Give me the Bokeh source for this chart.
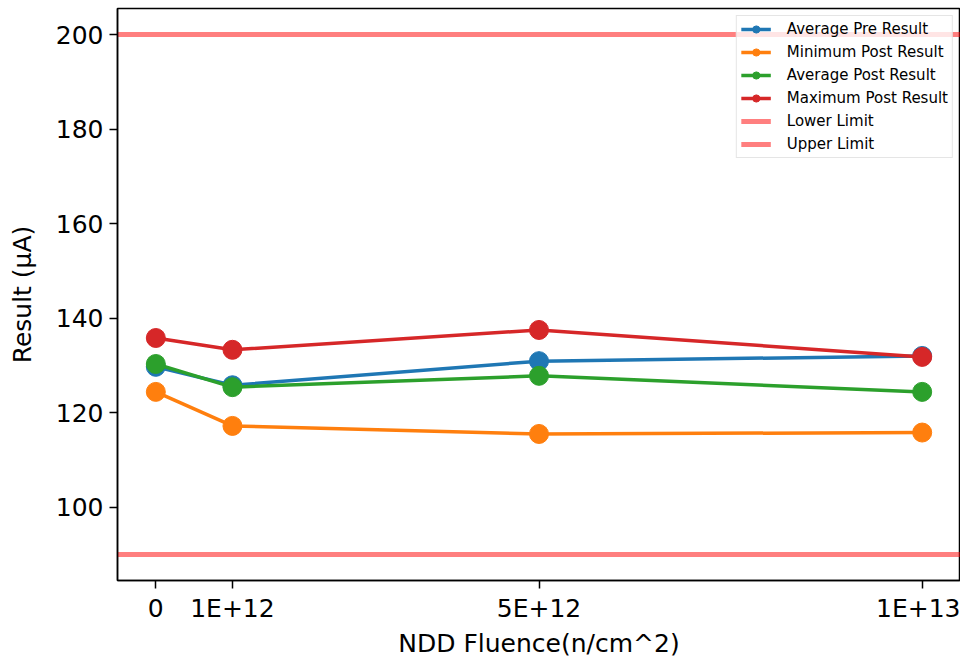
from bokeh.plotting import figure
from bokeh.models import FixedTicker, Range1d, Legend, LegendItem
from bokeh.embed import file_html
from bokeh.resources import INLINE

fluence = [0, 1e12, 5e12, 1e13]
tick_labels = ["0", "1E+12", "5E+12", "1E+13"]
avg_pre = [129.7, 125.8, 130.9, 132.0]
min_post = [124.4, 117.2, 115.5, 115.8]
avg_post = [130.3, 125.4, 127.8, 124.4]
max_post = [135.8, 133.3, 137.5, 131.8]
lower_limit = 90
upper_limit = 200

FONT = "DejaVu Sans"

p = figure(width=960, height=660, output_backend="svg", toolbar_location=None,
           x_range=Range1d(-0.05e13, 1.05e13), y_range=Range1d(84.5, 205.5),
           min_border_left=117, min_border_right=0, min_border_top=8, min_border_bottom=78)
p.xgrid.visible = False
p.ygrid.visible = False
p.outline_line_color = "black"
p.outline_line_width = 1.5

series = [("Average Pre Result", avg_pre, "#1f77b4"),
          ("Minimum Post Result", min_post, "#ff7f0e"),
          ("Average Post Result", avg_post, "#2ca02c"),
          ("Maximum Post Result", max_post, "#d62728")]
items = []
for name, vals, col in series:
    l = p.line(fluence, vals, line_color=col, line_width=3.5)
    c = p.scatter(fluence, vals, size=19, fill_color=col, line_color=col)
    items.append(LegendItem(label=name, renderers=[l, c]))

lo = p.line([-1e14, 1e14], [lower_limit, lower_limit], line_color="red", line_alpha=0.5, line_width=5)
up = p.line([-1e14, 1e14], [upper_limit, upper_limit], line_color="red", line_alpha=0.5, line_width=5)
items.append(LegendItem(label="Lower Limit", renderers=[lo]))
items.append(LegendItem(label="Upper Limit", renderers=[up]))

legend = Legend(items=items, location="top_right", label_text_font=FONT,
                label_text_font_size="15px", label_text_color="black",
                glyph_width=30, glyph_height=18,
                label_height=18, spacing=5, padding=4, margin=7,
                border_line_color="#cccccc", border_line_width=1.5,
                background_fill_alpha=0.8, label_standoff=16)
p.add_layout(legend)

p.xaxis.ticker = FixedTicker(ticks=fluence)
overrides = {}
for v, t in zip(fluence, tick_labels):
    overrides[float(v)] = t
    overrides[int(v)] = t
p.xaxis.major_label_overrides = overrides
p.yaxis.ticker = FixedTicker(ticks=[100, 120, 140, 160, 180, 200])

for ax in (p.xaxis[0], p.yaxis[0]):
    ax.major_label_text_font = FONT
    ax.major_label_text_font_size = "25px"
    ax.major_label_text_color = "black"
    ax.axis_label_text_font = FONT
    ax.axis_label_text_font_size = "25px"
    ax.axis_label_text_color = "black"
    ax.axis_label_text_font_style = "normal"
    ax.major_tick_in = 0
    ax.major_tick_out = 8
    ax.major_tick_line_width = 1.5
    ax.minor_tick_line_color = None
    ax.axis_line_color = "black"
    ax.axis_line_width = 1.5
    ax.major_tick_line_color = "black"

p.xaxis.major_label_standoff = 5
p.yaxis.major_label_standoff = 6
p.xaxis.axis_label = "NDD Fluence(n/cm^2)"
p.yaxis.axis_label = "Result (µA)"
p.xaxis.axis_label_standoff = 3
p.yaxis.axis_label_standoff = 16

open("out.html", "w").write(file_html(p, INLINE))
